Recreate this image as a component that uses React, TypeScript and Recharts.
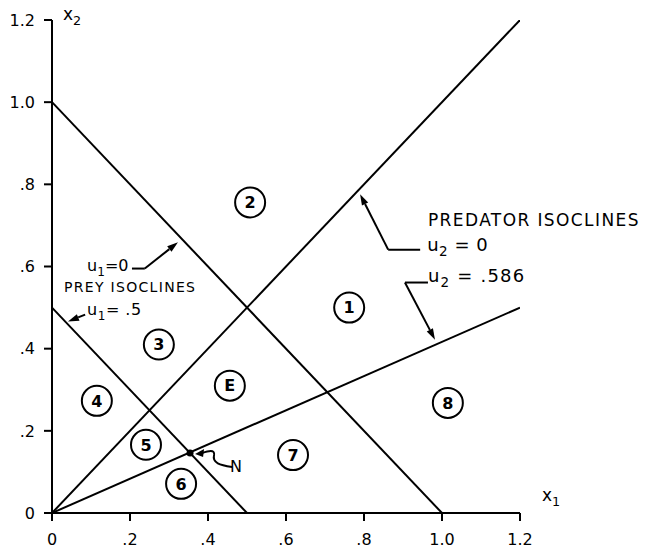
import React from 'react';
import { LineChart, Line, XAxis, YAxis, ReferenceDot, ReferenceLine } from 'recharts';

// isocline segments (x1, x2)
const preyU1Zero = [{ x: 0, y: 1 }, { x: 1, y: 0 }];
const preyU1Half = [{ x: 0, y: 0.5 }, { x: 0.5, y: 0 }];
const predU2Zero = [{ x: 0, y: 0 }, { x: 1.2, y: 1.2 }];
const predU2Opt = [{ x: 0, y: 0 }, { x: 1.2, y: 0.5 }];

// equilibrium N
const pointN = { x: 0.354, y: 0.146 };

// circled region labels
const regions = [
  { id: '1', x: 0.762, y: 0.5 },
  { id: '2', x: 0.508, y: 0.756 },
  { id: '3', x: 0.274, y: 0.41 },
  { id: '4', x: 0.115, y: 0.273 },
  { id: 'E', x: 0.456, y: 0.31 },
  { id: '5', x: 0.241, y: 0.166 },
  { id: '6', x: 0.331, y: 0.071 },
  { id: '7', x: 0.618, y: 0.141 },
  { id: '8', x: 1.015, y: 0.268 },
];

const xTicks = [0, 0.2, 0.4, 0.6, 0.8, 1.0, 1.2];
const yTicks = [0, 0.2, 0.4, 0.6, 0.8, 1.0, 1.2];

// text notes, "_n" is a subscript
const notes = [
  { text: 'PREDATOR ISOCLINES', x: 0.964, y: 0.698, size: 17, spacing: 1.4 },
  { text: 'u_2 = 0', x: 0.962, y: 0.637, size: 18, spacing: 0.5 },
  { text: 'u_2 = .586', x: 0.964, y: 0.563, size: 18, spacing: 1.2 },
  { text: 'u_1=0', x: 0.09, y: 0.588, size: 16, spacing: 0 },
  { text: 'PREY ISOCLINES', x: 0.031, y: 0.539, size: 14, spacing: 1.3 },
  { text: 'u_1= .5', x: 0.09, y: 0.483, size: 16, spacing: 0.5 },
  { text: 'N', x: 0.472, y: 0.1, size: 16, spacing: 0 },
];

// leader lines, last segment carries the arrowhead
const leaders = [
  [{ x: 0.944, y: 0.641 }, { x: 0.862, y: 0.641 }, { x: 0.79, y: 0.776 }],
  [{ x: 0.964, y: 0.561 }, { x: 0.905, y: 0.561 }, { x: 0.982, y: 0.422 }],
  [{ x: 0.205, y: 0.595 }, { x: 0.238, y: 0.595 }, { x: 0.323, y: 0.659 }],
  [{ x: 0.085, y: 0.483 }, { x: 0.041, y: 0.466 }],
];

const FONT = '"DejaVu Sans", sans-serif';

const fmtTick = (v: number) => {
  if (v === 0) return '0';
  if (v >= 1) return v.toFixed(1);
  return v.toFixed(1).replace(/^0/, '');
};

function renderText(text: string) {
  const parts = text.split(/_(\d)/);
  return parts.map((p, i) =>
    i % 2 === 1 ? (
      <tspan key={i} dy={5} fontSize="0.75em">{p}</tspan>
    ) : (
      <tspan key={i} dy={i > 0 ? -5 : 0}>{p}</tspan>
    )
  );
}

const Arrow = (props: any) => {
  const { x1, y1, x2, y2 } = props;
  const a = Math.atan2(y2 - y1, x2 - x1);
  const L = 11;
  const W = 3.5;
  const bx = x2 - L * Math.cos(a);
  const by = y2 - L * Math.sin(a);
  const px = -Math.sin(a) * W;
  const py = Math.cos(a) * W;
  return (
    <g>
      <line x1={x1} y1={y1} x2={bx} y2={by} stroke="#000" strokeWidth={2} />
      <polygon points={`${x2},${y2} ${bx + px},${by + py} ${bx - px},${by - py}`} fill="#000" />
    </g>
  );
};

export default function App() {
  return (
    <div style={{ marginTop: -8 }}>
      <LineChart
        width={643}
        height={549}
        margin={{ top: 20, right: 131, bottom: 6, left: 0 }}
        style={{ fontFamily: FONT }}
      >
        <XAxis
          type="number"
          dataKey="x"
          domain={[0, 1.2]}
          ticks={xTicks}
          tickFormatter={fmtTick}
          allowDataOverflow
          height={30}
          tickSize={8}
          tickMargin={13}
          axisLine={{ stroke: '#000', strokeWidth: 2 }}
          tickLine={{ stroke: '#000', strokeWidth: 2 }}
          tick={{ fill: '#000', fontSize: 16, fontFamily: FONT }}
        />
        <YAxis
          type="number"
          dataKey="y"
          domain={[0, 1.2]}
          ticks={yTicks}
          tickFormatter={fmtTick}
          allowDataOverflow
          width={44}
          tickSize={8}
          tickMargin={9}
          axisLine={{ stroke: '#000', strokeWidth: 2 }}
          tickLine={{ stroke: '#000', strokeWidth: 2 }}
          tick={{ fill: '#000', fontSize: 16, fontFamily: FONT }}
        />

        <Line data={preyU1Zero} dataKey="y" type="linear" stroke="#000" strokeWidth={2} dot={false} isAnimationActive={false} />
        <Line data={preyU1Half} dataKey="y" type="linear" stroke="#000" strokeWidth={2} dot={false} isAnimationActive={false} />
        <Line data={predU2Zero} dataKey="y" type="linear" stroke="#000" strokeWidth={2} dot={false} isAnimationActive={false} />
        <Line data={predU2Opt} dataKey="y" type="linear" stroke="#000" strokeWidth={2} dot={false} isAnimationActive={false} />

        {leaders.map((pts, li) =>
          pts.slice(1).map((p, i) => (
            <ReferenceLine
              key={`ld-${li}-${i}`}
              segment={[pts[i], p]}
              stroke="#000"
              strokeWidth={2}
              ifOverflow="visible"
              shape={i === pts.length - 2 ? Arrow : undefined}
            />
          ))
        )}

        {regions.map((r) => (
          <ReferenceDot
            key={r.id}
            x={r.x}
            y={r.y}
            r={15}
            shape={(p: any) => (
              <g>
                <circle cx={p.cx} cy={p.cy} r={15} fill="#fff" stroke="#000" strokeWidth={2} />
                <text x={p.cx} y={p.cy} dy="0.36em" textAnchor="middle" fontSize={16} fontWeight="bold" fill="#000" fontFamily={FONT}>
                  {r.id}
                </text>
              </g>
            )}
          />
        ))}

        <ReferenceDot
          x={pointN.x}
          y={pointN.y}
          r={4}
          shape={(p: any) => (
            <g>
              <circle cx={p.cx} cy={p.cy} r={3.5} fill="#000" />
              <path
                d={`M ${p.cx + 42} ${p.cy + 14} C ${p.cx + 30} ${p.cy + 12}, ${p.cx + 22} ${p.cy + 10}, ${p.cx + 24} ${p.cy + 2} C ${p.cx + 25} ${p.cy - 4}, ${p.cx + 18} ${p.cy - 2}, ${p.cx + 12} ${p.cy}`}
                fill="none"
                stroke="#000"
                strokeWidth={2}
              />
              <polygon points={`${p.cx + 5},${p.cy + 1} ${p.cx + 14},${p.cy - 4} ${p.cx + 13},${p.cy + 4}`} fill="#000" />
            </g>
          )}
        />

        {notes.map((n, i) => (
          <ReferenceDot
            key={`note-${i}`}
            x={n.x}
            y={n.y}
            r={0}
            ifOverflow="visible"
            shape={(p: any) => (
              <text x={p.cx} y={p.cy} dy="0.36em" textAnchor={n.text === 'N' ? 'middle' : 'start'} fontSize={n.size} fill="#000" fontFamily={FONT} letterSpacing={n.spacing}>
                {renderText(n.text)}
              </text>
            )}
          />
        ))}

        {/* axis names */}
        <ReferenceDot
          x={0.028}
          y={1.2}
          r={0}
          ifOverflow="visible"
          shape={(p: any) => (
            <text x={p.cx} y={p.cy} dy="0.2em" fontSize={17} fill="#000" fontFamily={FONT}>
              {renderText('x_2')}
            </text>
          )}
        />
        <ReferenceDot
          x={1.2}
          y={0}
          r={0}
          ifOverflow="visible"
          shape={(p: any) => (
            <text x={p.cx + 22} y={p.cy - 12} fontSize={17} fill="#000" fontFamily={FONT}>
              {renderText('x_1')}
            </text>
          )}
        />
      </LineChart>
    </div>
  );
}
